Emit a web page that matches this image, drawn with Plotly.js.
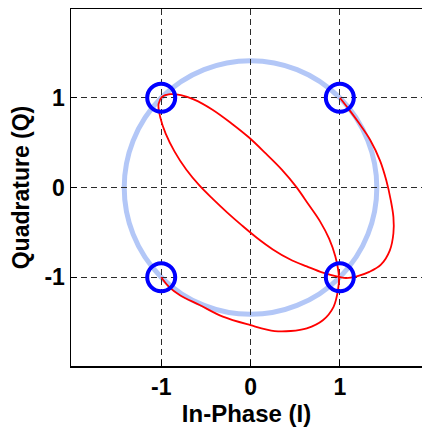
<!DOCTYPE html>
<html>
<head>
<meta charset="utf-8">
<script src="https://cdn.plot.ly/plotly-3.0.1.min.js"></script>
<style>
  html, body { margin: 0; padding: 0; background: #ffffff; }
  #chart { width: 422px; height: 427px; }
</style>
</head>
<body>
<div id="chart"></div>
<script>
// QPSK constellation points
const symI = [1, -1, -1, 1];
const symQ = [1, 1, -1, -1];

// Radius of the constant-envelope reference circle
const circleRadius = Math.SQRT2;

// Pulse-shaped baseband trajectory through the symbols
const trajI = [
  1.00, 1.11, 1.22, 1.34, 1.45, 1.52, 1.57, 1.60, 1.60, 1.56, 1.46, 1.33, 1.19, 1.07, 1.00,
  0.81, 0.63, 0.44, 0.25, 0.07, -0.10, -0.26, -0.42, -0.57, -0.72, -0.85, -0.95, -1.01, -1.03, -0.99,
  -0.90, -0.78, -0.63, -0.43, -0.22, -0.02, 0.17, 0.35, 0.51, 0.65, 0.78, 0.88, 0.95, 0.99,
  0.98, 0.93, 0.81, 0.63, 0.45, 0.27, 0.00, -0.31, -0.57, -0.79, -0.91, -1.00
];
const trajQ = [
  1.00, 0.86, 0.71, 0.53, 0.30, 0.08, -0.14, -0.33, -0.51, -0.70, -0.86, -0.94, -0.99, -1.01, -1.00,
  -0.95, -0.88, -0.80, -0.69, -0.56, -0.42, -0.28, -0.13, 0.02, 0.20, 0.40, 0.60, 0.78, 0.93, 1.01,
  1.04, 1.03, 0.98, 0.87, 0.72, 0.56, 0.38, 0.20, 0.01, -0.19, -0.38, -0.57, -0.77, -1.00,
  -1.14, -1.33, -1.48, -1.57, -1.60, -1.60, -1.535, -1.44, -1.31, -1.20, -1.11, -1.00
];

const tickVals = [-1, 0, 1];
const tickText = ['-1', '0', '1'];

const fontFamily = 'Liberation Sans, Arial, Helvetica, sans-serif';

const traces = [
  {
    x: trajI, y: trajQ,
    type: 'scatter', mode: 'lines',
    line: { color: '#ff0000', width: 1.8, shape: 'spline', smoothing: 1 },
    hoverinfo: 'skip'
  },
  {
    x: symI, y: symQ,
    type: 'scatter', mode: 'markers',
    marker: { symbol: 'circle-open', size: 28, color: '#0000ff', line: { color: '#0000ff', width: 4 } },
    hoverinfo: 'skip'
  }
];

const axisCommon = {
  tickvals: tickVals,
  ticktext: tickText,
  showgrid: true,
  gridcolor: '#2a2a2a',
  gridwidth: 1,
  griddash: '6px,4px',
  zeroline: false,
  showline: true,
  linecolor: '#000000',
  linewidth: 1.5,
  mirror: false,
  ticks: 'inside',
  ticklen: 6,
  tickwidth: 1,
  tickcolor: '#000000',
  tickfont: { family: fontFamily, size: 23, color: '#000000', weight: 'bold' },
  fixedrange: true
};

const layout = {
  width: 422,
  height: 427,
  margin: { l: 71, r: 0, t: 9, b: 61 },
  paper_bgcolor: '#ffffff',
  plot_bgcolor: '#ffffff',
  showlegend: false,
  xaxis: Object.assign({}, axisCommon, {
    range: [-2.01, 1.92],
    mirror: true,
    title: { text: 'In-Phase (I)', font: { family: fontFamily, size: 24, color: '#000000', weight: 'bold' }, standoff: 2 }
  }),
  yaxis: Object.assign({}, axisCommon, {
    range: [-1.99, 1.99],
    title: { text: 'Quadrature (Q)', font: { family: fontFamily, size: 23, color: '#000000', weight: 'bold' }, standoff: 8 }
  }),
  shapes: [
    {
      type: 'circle', xref: 'x', yref: 'y', layer: 'below',
      x0: -circleRadius, x1: circleRadius, y0: -circleRadius, y1: circleRadius,
      line: { color: '#b3c7f7', width: 5 }
    }
  ]
};

Plotly.newPlot('chart', traces, layout, { displayModeBar: false, staticPlot: true });
</script>
</body>
</html>
